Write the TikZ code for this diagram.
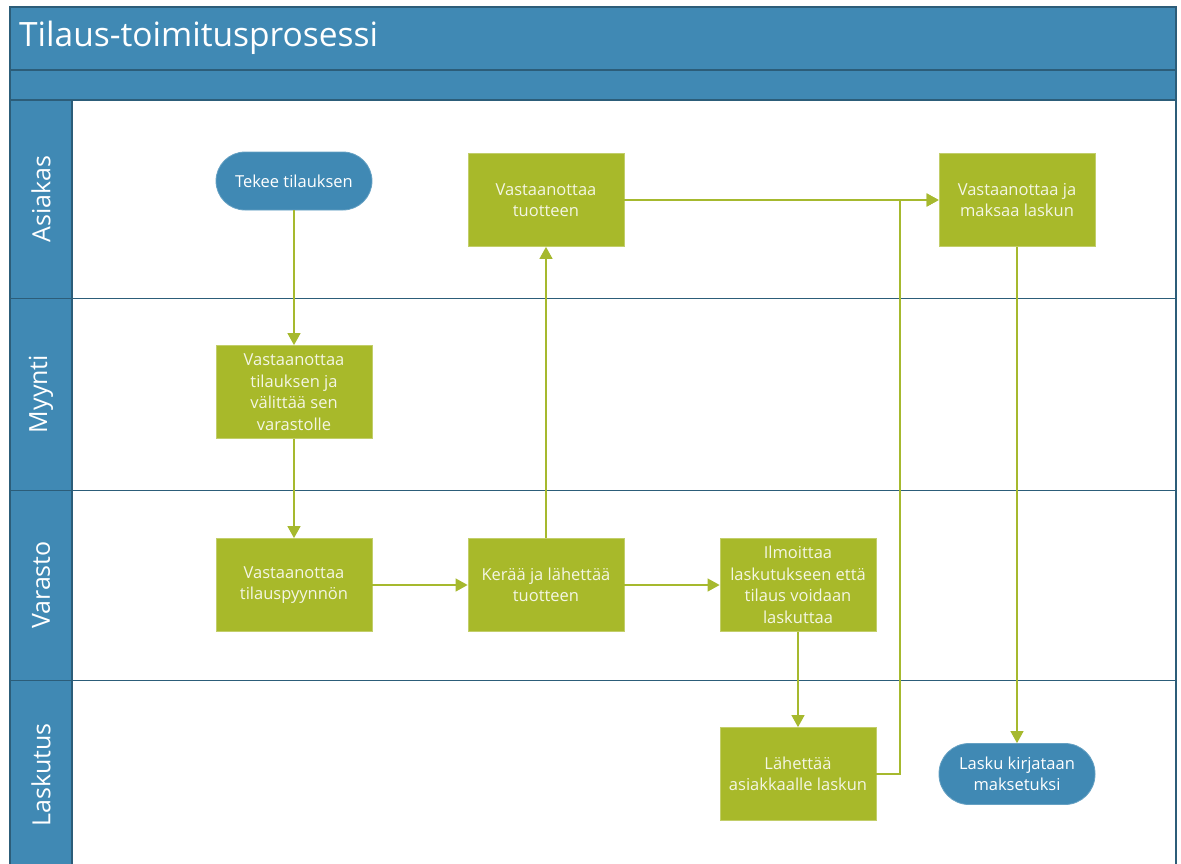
\documentclass[tikz,border=0pt]{standalone}
\usepackage{fontspec}
\setmainfont{Open Sans}
\usetikzlibrary{arrows.meta}
\definecolor{hdr}{HTML}{4089B4}
\definecolor{hdrline}{HTML}{2C5D79}
\definecolor{grn}{HTML}{A8B92A}
\definecolor{grnline}{HTML}{A6B92E}
\definecolor{txtlight}{HTML}{F4F6E4}
\begin{document}
\begin{tikzpicture}[x=1pt,y=-1pt,
  proc/.style={fill=grn,draw=grn!70!white,line width=0.8pt,minimum width=156pt,minimum height=93pt,inner sep=2pt,align=center,text=txtlight,font=\fontsize{16.5}{21.5}\selectfont},
  term/.style={fill=hdr,draw=hdr!80!white,line width=0.8pt,minimum width=156pt,rounded corners=29pt,align=center,text=white,font=\fontsize{16.5}{21.5}\selectfont},
  lanelbl/.style={rotate=90,text=white,font=\fontsize{25}{28}\selectfont},
  flow/.style={draw=grnline,line width=1.3pt,-{Triangle[length=12pt,width=13pt]}}
]
\useasboundingbox (0,0) rectangle (1181,863);
\clip (0,0) rectangle (1181,863);
% title and bands
\fill[hdr] (10,7) rectangle (1176,100);
\fill[hdr] (10,100) rectangle (72,880);
\draw[hdrline,line width=1.5pt] (10,7) rectangle (1176,880);
\draw[hdrline,line width=1.3pt] (10,70) -- (1176,70);
\draw[hdrline,line width=1.3pt] (10,100) -- (1176,100);
\draw[hdrline,line width=1.3pt] (72,100) -- (72,880);
\draw[hdrline,line width=1pt] (10,298) -- (1176,298);
\draw[hdrline,line width=1pt] (10,490) -- (1176,490);
\draw[hdrline,line width=1pt] (10,680) -- (1176,680);
\node[anchor=west,text=white,font=\fontsize{33.5}{38}\selectfont,inner sep=0pt] (title) at (19,38) {Tilaus-toimitusprosessi};
% lane labels
\node[lanelbl] (l1) at (41,199) {Asiakas};
\node[lanelbl] (l2) at (41,394) {Myynti};
\node[lanelbl] (l3) at (41,585) {Varasto};
\node[lanelbl] (l4) at (41,775) {Laskutus};
% nodes
\node[term,minimum height=58pt] (tekee) at (294,181) {Tekee tilauksen};
\node[proc] (vtuote) at (546,200) {Vastaanottaa\\tuotteen};
\node[proc] (maksaa) at (1017,200) {Vastaanottaa ja\\maksaa laskun};
\node[proc] (myynti) at (294,392) {Vastaanottaa\\tilauksen ja\\välittää sen\\varastolle};
\node[proc] (vpyynto) at (294,585) {Vastaanottaa\\tilauspyynnön};
\node[proc] (keraa) at (546,585) {Kerää ja lähettää\\tuotteen};
\node[proc] (ilmoittaa) at (798,585) {Ilmoittaa\\laskutukseen että\\tilaus voidaan\\laskuttaa};
\node[proc] (lahettaa) at (798,774) {Lähettää\\asiakkaalle laskun};
\node[term,minimum height=61pt,rounded corners=30pt] (lasku) at (1017,774) {Lasku kirjataan\\maksetuksi};
\coordinate (bend1) at (900,774);
\coordinate (bend2) at (900,200);
% connectors
\draw[flow] (tekee) -- (myynti);
\draw[flow] (myynti) -- (vpyynto);
\draw[flow] (vpyynto) -- (keraa);
\draw[flow] (keraa) -- (vtuote);
\draw[flow] (keraa) -- (ilmoittaa);
\draw[flow] (ilmoittaa) -- (lahettaa);
\draw[flow] (vtuote) -- (maksaa);
\draw[flow] (lahettaa.east |- bend1) -- (bend1) -- (bend2) -- (maksaa.west);
\draw[flow] (maksaa) -- (lasku);
\end{tikzpicture}
\end{document}
